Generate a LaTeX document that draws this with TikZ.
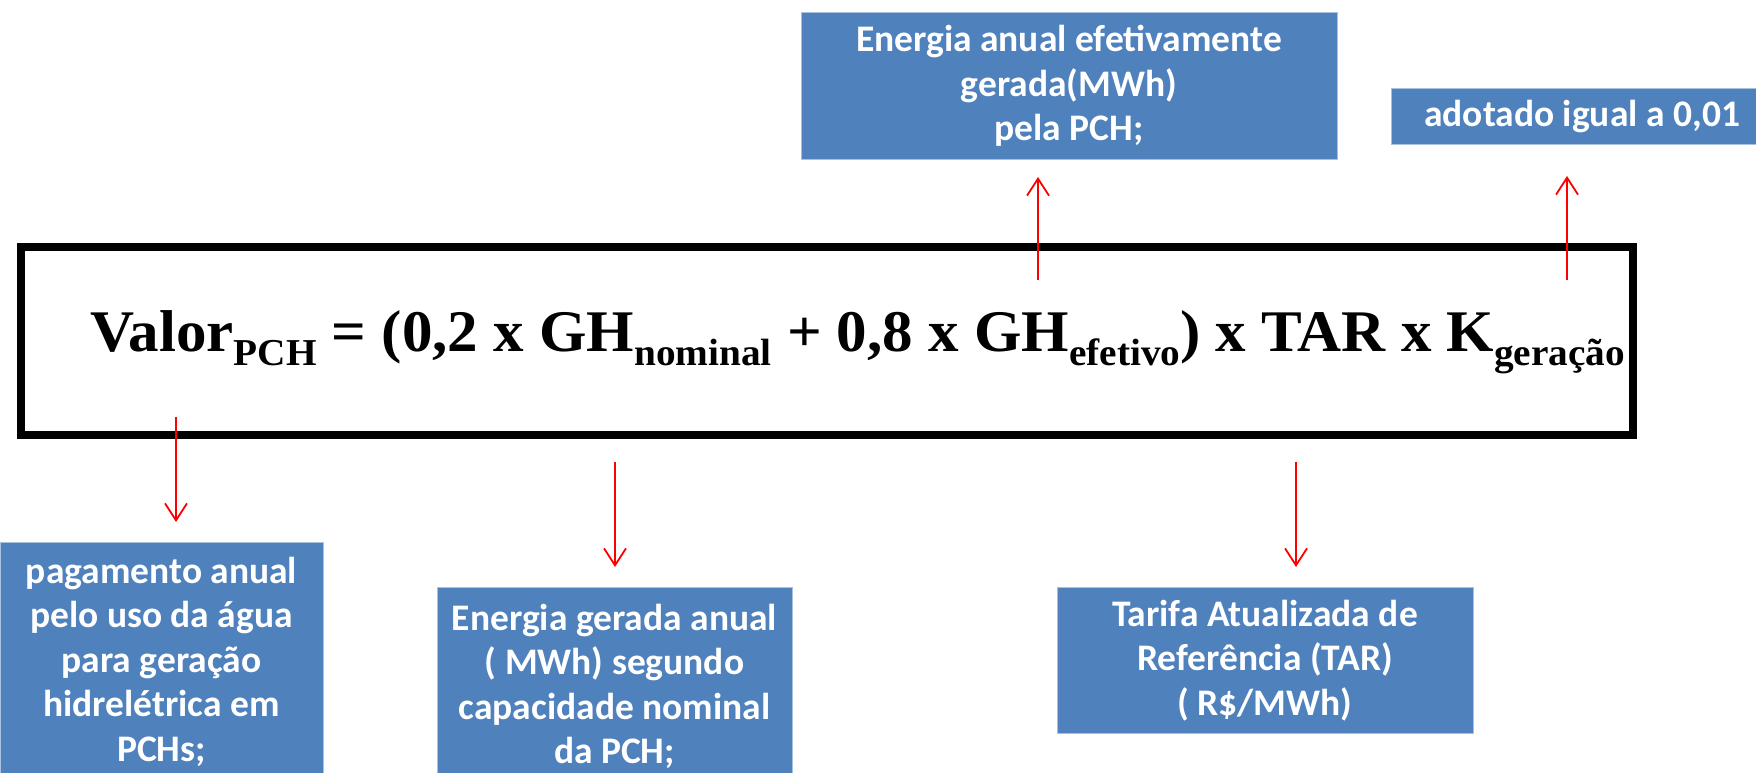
\documentclass[tikz,border=0pt]{standalone}
\usepackage{fontspec}
\usepackage{graphicx}
\usepackage{tikz}
\usetikzlibrary{arrows.meta}
\newfontfamily\fonteCaixa{Carlito}
\newfontfamily\fonteFormula{Liberation Serif}
\definecolor{Caixa}{HTML}{4F81BD}
\definecolor{Borda}{HTML}{A9C0DE}
\newcommand{\Indice}[1]{\raisebox{-14pt}{\fontsize{38}{40}\selectfont #1}}

\begin{document}
\begin{tikzpicture}[x=1pt,y=-1pt,
	caixa/.style={fill=Caixa,draw=Borda,line width=1pt,text=white,align=center,inner sep=0pt,anchor=north,font=\fonteCaixa\bfseries\fontsize{37.5}{44.5}\selectfont},
	seta/.style={red,line width=1.8pt,-{Straight Barb[length=17pt,width=22pt]}}]
	\useasboundingbox (0,0) rectangle (1756,773);
	\draw [line width=8pt] (21,247) rectangle (1633,435);
	\node [anchor=base west,inner sep=0] (Formula) at (90,351) {\resizebox{1535pt}{\height}{\fonteFormula\bfseries\fontsize{59}{60}\selectfont Valor\Indice{PCH} = (0,2 x GH\Indice{nominal} + 0,8 x GH\Indice{efetivo}) x TAR x K\Indice{geração}}};
	\node [caixa,minimum width=536,minimum height=147] (Efetivo) at (1069,12) {Energia anual efetivamente\\gerada(MWh)\\pela PCH;};
	\node [caixa,minimum width=382,minimum height=56] (Adotado) at (1582,88) {adotado igual a 0,01};
	\node [caixa,minimum width=323,minimum height=238] (Pagamento) at (161.5,542) {pagamento anual\\pelo uso da água\\para geração\\hidrelétrica em\\PCHs;};
	\node [caixa,minimum width=355,minimum height=198] (Nominal) at (614.5,587) {Energia gerada anual\\( MWh) segundo\\capacidade nominal\\da PCH;};
	\node [caixa,minimum width=416,minimum height=146] (Tarifa) at (1265,587) {Tarifa Atualizada de\\Referência (TAR)\\( R\$/MWh)};
	\coordinate (aValor) at (176,417);
	\coordinate (aNominal) at (615,462);
	\coordinate (aTarifa) at (1296,462);
	\coordinate (aEfetivo) at (1038,280);
	\coordinate (aGeracao) at (1567,280);
	\draw [seta] [shorten >=20pt] (aValor) -- (aValor |- Pagamento.north);
	\draw [seta] [shorten >=20pt] (aNominal) -- (aNominal |- Nominal.north);
	\draw [seta] [shorten >=20pt] (aTarifa) -- (aTarifa |- Tarifa.north);
	\draw [seta] [shorten >=17pt] (aEfetivo) -- (aEfetivo |- Efetivo.south);
	\draw [seta] [shorten >=31pt] (aGeracao) -- (aGeracao |- Adotado.south);
\end{tikzpicture}
\end{document}
